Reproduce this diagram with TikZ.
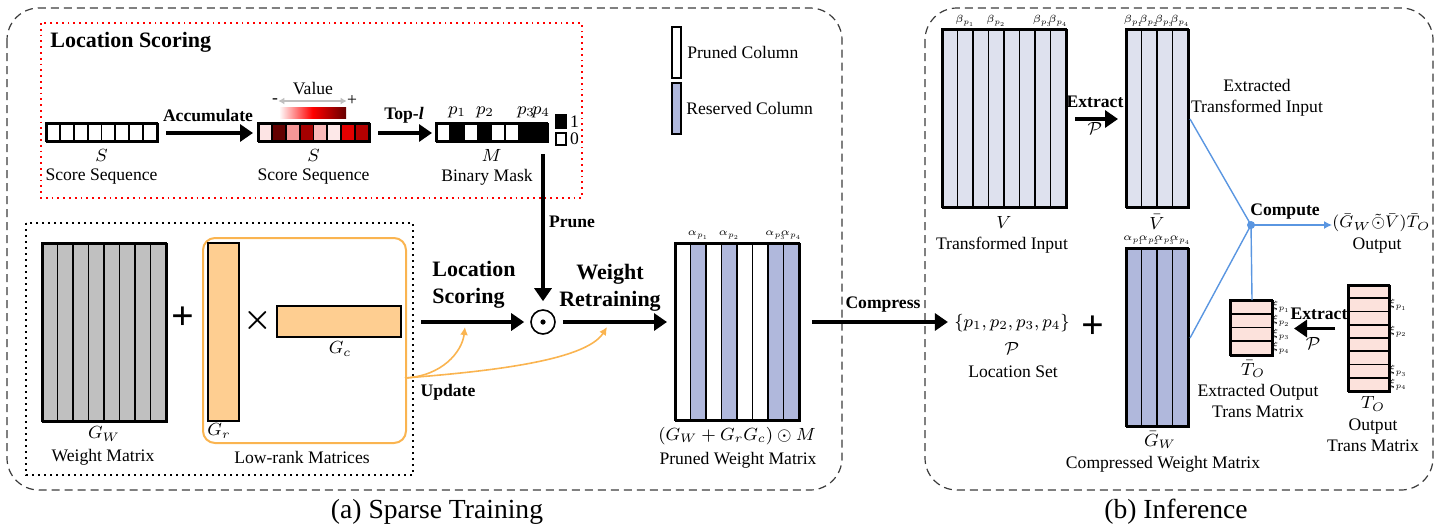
\documentclass[tikz,border=0pt]{standalone}
\usepackage{fix-cm}
\usepackage{amssymb, amsmath}
\usepackage{fontspec}
\setmainfont{Liberation Serif}
\usepackage{tikz}
\usetikzlibrary{positioning,arrows.meta,shapes}
\DeclareMathSizes{5.2}{5.2}{3.9}{3}

\definecolor{wgray}{RGB}{192,192,192}
\definecolor{rescol}{RGB}{176,184,220}
\definecolor{incol}{RGB}{222,225,238}
\definecolor{lrline}{RGB}{250,180,80}
\definecolor{lrfill}{RGB}{254,206,145}
\definecolor{tofill}{RGB}{252,226,220}
\definecolor{cline}{RGB}{90,150,225}
\definecolor{boxgray}{RGB}{60,60,60}
\definecolor{sca}{RGB}{253,228,228}
\definecolor{scb}{RGB}{100,0,0}
\definecolor{scc}{RGB}{245,150,150}
\definecolor{scd}{RGB}{165,0,0}
\definecolor{sce}{RGB}{250,185,185}
\definecolor{scf}{RGB}{253,232,232}
\definecolor{scg}{RGB}{228,0,0}
\definecolor{sch}{RGB}{180,0,0}

\tikzset{
	lab/.style={font=\fontsize{8.8}{10.5}\selectfont, inner sep=0pt, align=center},
	blab/.style={font=\fontsize{8.8}{10.5}\selectfont\bfseries, inner sep=0pt},
	bigl/.style={font=\fontsize{11}{13.5}\selectfont\bfseries, inner sep=0pt},
	sublab/.style={font=\fontsize{5.2}{5.6}\selectfont, inner sep=0pt},
	mat/.style={draw, line width=1pt, inner sep=0pt, anchor=north west},
	cell/.style={draw, line width=0.9pt},
	bigarr/.style={line width=1.6pt, -{Triangle[length=6.5pt,width=8.5pt]}},
	updarr/.style={draw=lrline, line width=0.8pt, -{Latex[length=4pt,width=4pt]}},
	panel/.style={draw=boxgray, line width=0.6pt, dash pattern=on 4pt off 2.5pt, rounded corners=16pt},
}

\begin{document}
\begin{tikzpicture}[x=0.5pt, y=-0.5pt]
	\useasboundingbox (0,0) rectangle (1443,531);

	% panels and captions
	\draw[panel] (7,8) rectangle (842,490);
	\draw[panel] (925,8) rectangle (1433,490);
	\node[font=\fontsize{13.8}{16}\selectfont] (capa) at (437,512) {(a) Sparse Training};
	\node[font=\fontsize{13.8}{16}\selectfont] (capb) at (1176,512) {(b) Inference};

	% location scoring
	\draw[red, dotted, line width=0.9pt] (41,23) rectangle (582,198);
	\node[bigl, anchor=west] (lstitle) at (50,42) {Location Scoring};

	\foreach \i in {0,...,7}
		\draw[cell, fill=white] (46+\i*13.875,123) rectangle ++(13.875,18);
	\node[mat, minimum width=55.5pt, minimum height=9pt] (S1) at (46,123) {};
	\node[lab] (S1m) at (101.5,155) {$S$};
	\node[lab] (S1t) at (101.5,177) {Score Sequence};

	\foreach \c [count=\i from 0] in {sca,scb,scc,scd,sce,scf,scg,sch}
		\draw[cell, fill=\c] (258+\i*13.875,123) rectangle ++(13.875,18);
	\node[mat, minimum width=55.5pt, minimum height=9pt] (S2) at (258,123) {};
	\node[lab] (S2m) at (313.5,155) {$S$};
	\node[lab] (S2t) at (313.5,177) {Score Sequence};

	\shade[left color=white, right color=red!40!black, middle color=red] (279,107) rectangle (346,118);
	\node[lab] (vlab) at (313,89) {Value};
	\node[lab] (vminus) at (275,101) {-};
	\node[lab] (vplus) at (352,101) {+};
	\draw[black!25, line width=1.2pt, {Latex[length=3pt,width=3.5pt]}-{Latex[length=3pt,width=3.5pt]}] (vminus) -- (vplus);

	\foreach \c [count=\i from 0] in {white,black,white,black,white,white,black,black}
		\draw[cell, fill=\c] (436+\i*13.875,123) rectangle ++(13.875,18);
	\node[mat, minimum width=55.5pt, minimum height=9pt] (M) at (436,123) {};
	\foreach \k/\xx in {1/457,2/485,3/526,4/541}
		\node[lab] (p\k) at (\xx,112) {$p_{\k}$};
	\node[lab] (Mm) at (491.5,155) {$M$};
	\node[lab] (Mt) at (487,177) {Binary Mask};

	\node[draw, fill=black, line width=0.8pt, minimum width=5pt, minimum height=6.5pt, inner sep=0pt] (one) at (561,121.5) {};
	\node[draw, fill=white, line width=0.8pt, minimum width=5pt, minimum height=6pt, inner sep=0pt] (zero) at (561,139) {};
	\node[lab, right=1.5pt of one] (onet) {1};
	\node[lab, right=1.5pt of zero] (zerot) {0};

	\draw[bigarr, shorten <=3.5pt, shorten >=2.5pt] (S1.east) -- (S2.west);
	\node[blab] (acc) at (208,115) {Accumulate};
	\draw[bigarr, shorten <=3.5pt, shorten >=2pt] (S2.east) -- (M.west);
	\node[blab] (topl) at (404,115) {Top-\textit{l}};

	% legend
	\node[draw, line width=0.9pt, fill=white, minimum width=4.5pt, minimum height=25.5pt, inner sep=0pt] (lgp) at (676.5,52.5) {};
	\node[lab, right=2.5pt of lgp] (lgpt) {Pruned Column};
	\node[draw, line width=0.9pt, fill=rescol, minimum width=4.5pt, minimum height=25.5pt, inner sep=0pt] (lgr) at (676.5,108.5) {};
	\node[lab, right=2pt of lgr] (lgrt) {Reserved Column};

	% weight and low-rank matrices
	\draw[dotted, line width=1pt] (26,223) rectangle (413,475);
	\foreach \i in {0,...,7}
		\draw[cell, fill=wgray] (42+\i*15.5,243) rectangle ++(15.5,178);
	\node[mat, minimum width=62pt, minimum height=89pt] (GW) at (42,243) {};
	\node[lab] (GWm) at (104,434) {$G_W$};
	\node[lab] (GWt) at (103,457) {Weight Matrix};
	\node[font=\fontsize{20}{22}\selectfont\bfseries] (plusa) at (183,318) {+};

	\node[draw=lrline, line width=1pt, rounded corners=6pt, minimum width=101.5pt, minimum height=102.5pt, inner sep=0pt, anchor=north west] (LR) at (202,237) {};
	\node[mat, fill=lrfill, minimum width=15.5pt, minimum height=89pt] (Gr) at (207,242) {};
	\node[lab] (Grm) at (219,431) {$G_r$};
	\node[font=\fontsize{16}{18}\selectfont] (times) at (258,320) {$\boldsymbol{\times}$};
	\node[mat, fill=lrfill, minimum width=62pt, minimum height=15.5pt] (Gc) at (276,305) {};
	\node[lab] (Gcm) at (340,349) {$G_c$};
	\node[lab] (LRt) at (302,457) {Low-rank Matrices};

	% training flow
	\coordinate (lsa) at (421,322);
	\coordinate (upd) at (405,378);
	\node[circle, draw, line width=0.8pt, minimum size=12pt, inner sep=0pt] (odot) at (543,322) {};
	\fill (odot.center) circle (1.3pt);
	\node[bigl, anchor=west, align=left] (lsl) at (432,285) {Location\\Scoring};
	\draw[bigarr, shorten >=3pt] (lsa) -- (odot.west);
	\draw[bigarr, shorten <=5.5pt, shorten >=4pt] (M.south -| odot.north) -- (odot.north);
	\node[blab] (prune) at (572,222) {Prune};
	\node[bigl, align=center] (wrl) at (610,288) {Weight\\Retraining};

	\foreach \c [count=\i from 0] in {white,rescol,white,rescol,white,white,rescol,rescol}
		\draw[cell, fill=\c] (675+\i*15.5,243) rectangle ++(15.5,177);
	\node[mat, minimum width=62pt, minimum height=88.5pt] (PW) at (675,243) {};
	\foreach \k/\xx in {1/698.25,2/729.25,3/775.75,4/791.25}
		\node[sublab] (pa\k) at (\xx,235) {$\alpha_{p_{\k}}$};
	\node[lab] (PWm) at (737,436) {$(G_W+G_rG_c)\odot M$};
	\node[lab] (PWt) at (738,460) {Pruned Weight Matrix};
	\draw[bigarr, shorten <=3.5pt, shorten >=4pt] (odot.east) -- (odot.east -| PW.west);

	\draw[updarr] (upd) .. controls (442,376) and (462,352) .. (465,327);
	\draw[updarr] (upd) .. controls (480,372) and (585,362) .. (607,327);
	\node[blab] (updl) at (448,392) {Update};

	% inference
	\foreach \i in {0,...,7}
		\draw[cell, fill=incol] (942+\i*15.5,29) rectangle ++(15.5,178);
	\node[mat, minimum width=62pt, minimum height=89pt] (V) at (942,29) {};
	\foreach \k/\xx in {1/965.25,2/996.25,3/1042.75,4/1058.25}
		\node[sublab] (vb\k) at (\xx,21) {$\beta_{p_{\k}}$};
	\node[lab] (Vm) at (1004,222) {$V$};
	\node[lab] (Vt) at (1002,245) {Transformed Input};

	\foreach \i in {0,...,3}
		\draw[cell, fill=incol] (1126+\i*15.5,29) rectangle ++(15.5,178);
	\node[mat, minimum width=31pt, minimum height=89pt] (Vb) at (1126,29) {};
	\foreach \k/\xx in {1/1133.75,2/1149.25,3/1164.75,4/1180.25}
		\node[sublab] (vbb\k) at (\xx,21) {$\beta_{p_{\k}}$};
	\node[lab] (Vbm) at (1157,222) {$\bar{V}$};
	\node[lab] (Vbt) at (1257,98) {Extracted\\Transformed Input};

	\draw[bigarr, shorten <=3.5pt, shorten >=4pt] (V.east) -- (Vb.west);
	\node[blab] (ext1) at (1095,102) {Extract};
	\node[lab] (P1) at (1095,128) {$\mathcal{P}$};

	\foreach \i in {0,...,3}
		\draw[cell, fill=rescol] (1126+\i*15.5,248) rectangle ++(15.5,178);
	\node[mat, minimum width=31pt, minimum height=89pt] (Gb) at (1126,248) {};
	\foreach \k/\xx in {1/1133.75,2/1149.25,3/1164.75,4/1180.25}
		\node[sublab] (gba\k) at (\xx,240) {$\alpha_{p_{\k}}$};
	\node[lab] (Gbm) at (1160,440) {$\bar{G}_W$};
	\node[lab] (Gbt) at (1163,464) {Compressed Weight Matrix};

	\node[lab] (Pset) at (1012,323) {$\{p_1,p_2,p_3,p_4\}$};
	\node[lab] (P2) at (1012,348) {$\mathcal{P}$};
	\node[lab] (Psett) at (1013,372) {Location Set};
	\node[font=\fontsize{20}{22}\selectfont\bfseries] (plusb) at (1093,327) {+};
	\draw[bigarr, shorten <=5.5pt, shorten >=3pt] (odot -| PW.east) -- (odot -| Pset.west);
	\node[blab] (comp) at (883,305) {Compress};

	\foreach \i in {0,...,3}
		\draw[cell, fill=tofill] (1230,300+\i*13.75) rectangle ++(42,13.75);
	\node[mat, minimum width=21pt, minimum height=27.5pt] (Tb) at (1230,300) {};
	\foreach \k in {1,...,4}
		\node[sublab] (tx\k) at (1281,300+\k*13.75-6.875) {$\xi_{p_{\k}}$};
	\node[lab] (Tbm) at (1253,369) {$\bar{T}_O$};
	\node[lab] (Tbt) at (1258,401) {Extracted Output\\Trans Matrix};

	\foreach \i in {0,...,7}
		\draw[cell, fill=tofill] (1348,285+\i*13.25) rectangle ++(41,13.25);
	\node[mat, minimum width=20.5pt, minimum height=53pt] (To) at (1348,285) {};
	\foreach \k/\yy in {1/304.9,2/331.4,3/371.1,4/384.4}
		\node[sublab] (tox\k) at (1398,\yy) {$\xi_{p_{\k}}$};
	\node[lab] (Tom) at (1373,404) {$T_O$};
	\node[lab] (Tot) at (1373,435) {Output\\Trans Matrix};

	\draw[bigarr, shorten <=6.5pt, shorten >=10pt] (To.west |- Tb.east) -- (Tb.east);
	\node[blab] (ext2) at (1319,314) {Extract};
	\node[lab] (P3) at (1313,343) {$\mathcal{P}$};

	% compute
	\node[circle, fill=cline, minimum size=4pt, inner sep=0pt] (dot) at (1251,225) {};
	\node[lab, anchor=west, font=\fontsize{8.4}{10}\selectfont] (out) at (1332,223) {$(\bar{G}_W\tilde{\odot}\bar{V})\bar{T}_O$};
	\node[lab] (outt) at (1377,246) {Output};
	\node[blab] (compl) at (1285,212) {Compute};
	\draw[cline, line width=0.7pt] (Vb.east) -- (dot.center);
	\draw[cline, line width=0.7pt] (Gb.east) -- (dot.center);
	\draw[cline, line width=0.7pt] (dot.center) -- (Tb.north);
	\draw[cline, line width=0.7pt, -{Latex[length=4pt,width=4pt]}] (dot.center) -- (out.west |- dot);
\end{tikzpicture}
\end{document}
